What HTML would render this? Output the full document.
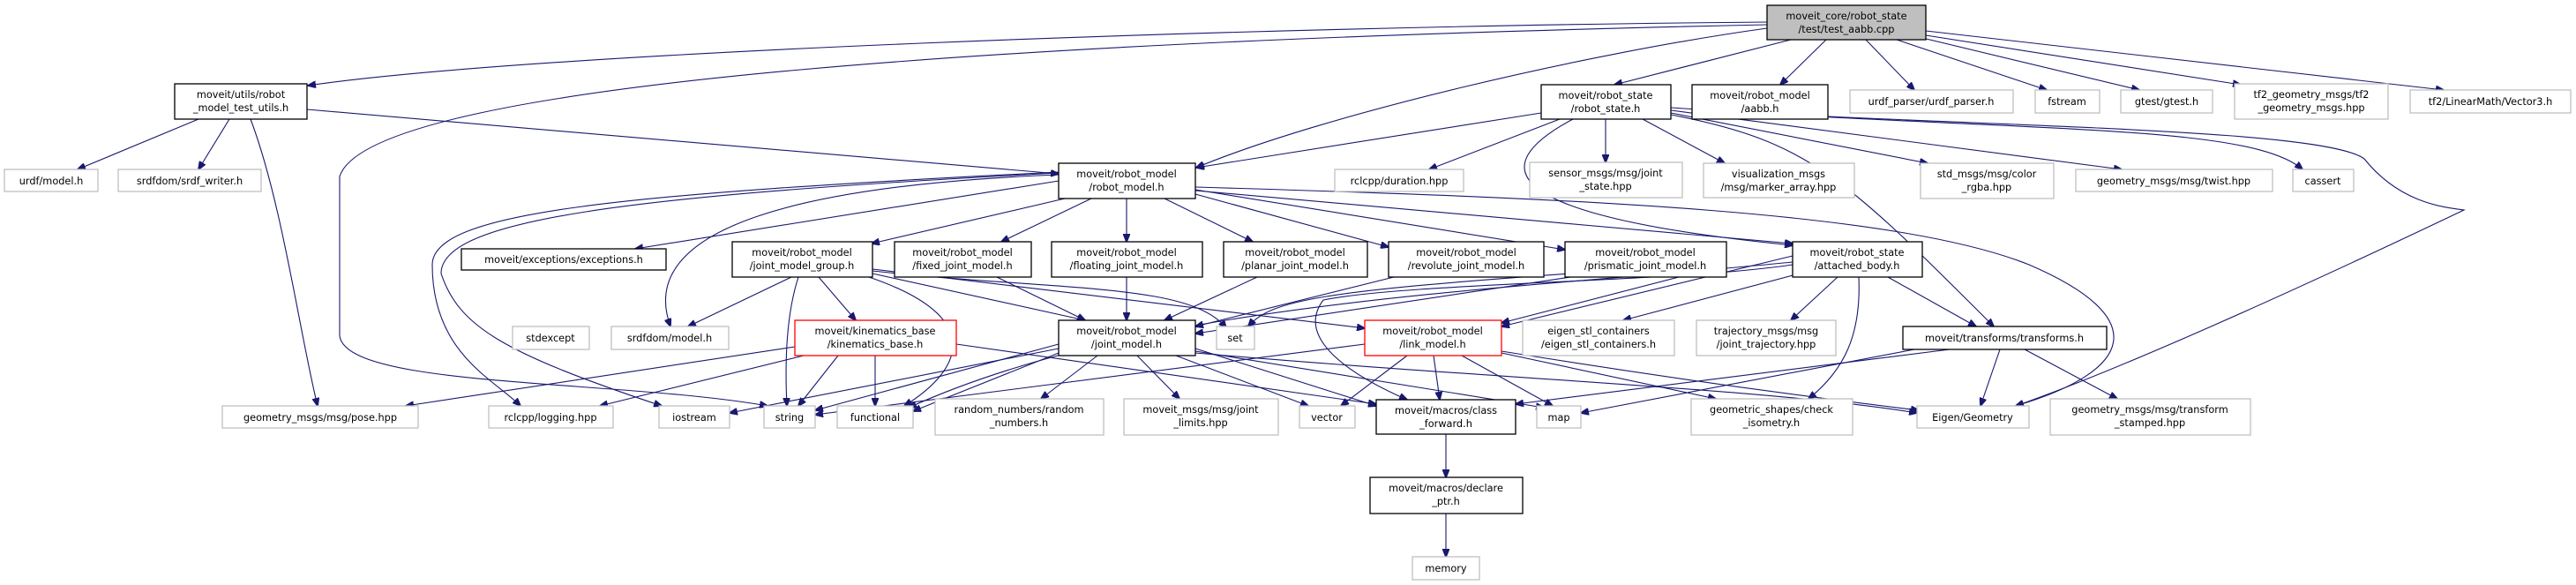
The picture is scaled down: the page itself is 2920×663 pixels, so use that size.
<!DOCTYPE html>
<html><head><meta charset="utf-8"><style>
html,body{margin:0;padding:0;background:#fff}
svg{display:block}
text{font-family:"DejaVu Sans","Liberation Sans",sans-serif;font-size:11.3px;fill:#000}
.e{fill:none;stroke:#191970;stroke-width:1.1}
.k{fill:#fff;stroke:#000;stroke-width:1.3}
.g{fill:#fff;stroke:#bfbfbf;stroke-width:1.3}
.r{fill:#fff;stroke:#ff0000;stroke-width:1.3}
</style></head><body>
<svg width="2920" height="663" viewBox="0 0 2920 663" xmlns="http://www.w3.org/2000/svg">
<defs><marker id="a" markerWidth="10" markerHeight="8" refX="9" refY="4" orient="auto" markerUnits="userSpaceOnUse"><path d="M0,0 L10,4 L0,8 z" fill="#191970" stroke="#191970"/></marker></defs>
<g class="e" marker-end="url(#a)">
<path d="M2003,25 C1400,30 600,60 349,97"/>
<path d="M2003,28 C1200,45 420,90 385,200 L385,380 C390,440 700,430 870,460"/>
<path d="M2003,32 C1800,60 1500,130 1356,190"/>
<path d="M2030,45 L1830,96"/>
<path d="M2070,45 L2018,96"/>
<path d="M2115,45 L2170,102"/>
<path d="M2150,45 L2320,102"/>
<path d="M2175,42 L2425,102"/>
<path d="M2183,40 L2540,96"/>
<path d="M2183,35 L2770,102"/>
<path d="M225,135 L88,192"/>
<path d="M260,135 L225,192"/>
<path d="M284,135 C320,230 340,380 360,460"/>
<path d="M348,124 L1200,197"/>
<path d="M1747,128 L1356,190"/>
<path d="M1768,135 L1620,192"/>
<path d="M1820,135 L1820,184"/>
<path d="M1862,135 L1955,185"/>
<path d="M1894,128 L2185,185"/>
<path d="M1894,125 L2405,192"/>
<path d="M1894,122 C2300,150 2550,140 2610,192"/>
<path d="M1894,130 C2050,160 2090,200 2260,370"/>
<path d="M1783,135 C1680,190 1700,245 2032,278"/>
<path d="M2072,132 C2350,145 2640,150 2680,180 C2720,230 2770,235 2793,238 C2600,330 2400,420 2285,460"/>
<path d="M1200,205 L720,282"/>
<path d="M1207,225 L988,276"/>
<path d="M1237,225 L1135,274"/>
<path d="M1277,225 L1277,274"/>
<path d="M1320,225 L1420,274"/>
<path d="M1355,220 L1574,280"/>
<path d="M1355,215 L1774,283"/>
<path d="M1355,212 C1800,225 2150,240 2300,300 C2440,360 2420,420 2285,460"/>
<path d="M1355,216 L2032,276"/>
<path d="M1200,198 C900,210 720,260 760,370"/>
<path d="M1200,195 C700,220 490,240 490,300 C490,400 560,430 590,460"/>
<path d="M1200,196 C700,222 500,250 500,310 C520,370 570,400 750,460"/>
<path d="M897,314 L780,370"/>
<path d="M905,314 C890,360 890,420 892,460"/>
<path d="M928,314 L970,363"/>
<path d="M989,310 L1230,363"/>
<path d="M989,307 C1200,330 1350,320 1390,372"/>
<path d="M989,305 L1547,372"/>
<path d="M985,314 C1120,360 1090,420 1025,460"/>
<path d="M901,393 L460,460"/>
<path d="M911,403 L680,460"/>
<path d="M950,403 L905,460"/>
<path d="M992,403 L992,460"/>
<path d="M1084,390 L1560,458"/>
<path d="M1130,314 L1230,363"/>
<path d="M1277,314 L1277,363"/>
<path d="M1425,314 L1320,363"/>
<path d="M1580,314 L1355,370"/>
<path d="M1780,314 L1355,378"/>
<path d="M1780,310 C1500,330 1440,340 1415,370"/>
<path d="M1957,300 L1702,366"/>
<path d="M1244,403 L1180,452"/>
<path d="M1289,403 L1337,452"/>
<path d="M1333,403 L1483,460"/>
<path d="M1355,395 L1560,460"/>
<path d="M1355,398 L1750,462"/>
<path d="M1355,400 C1700,430 2000,440 2173,468"/>
<path d="M1200,390 L924,465"/>
<path d="M1200,395 L827,468"/>
<path d="M1200,400 L1035,466"/>
<path d="M1595,403 L1520,460"/>
<path d="M1625,403 L1632,453"/>
<path d="M1657,403 L1760,460"/>
<path d="M1702,400 L1945,452"/>
<path d="M1702,398 C1900,430 2050,450 2175,465"/>
<path d="M1547,390 L924,470"/>
<path d="M2032,290 L1702,370"/>
<path d="M2040,310 L1840,363"/>
<path d="M2083,314 L2030,363"/>
<path d="M2140,314 L2240,370"/>
<path d="M2107,314 C2110,380 2090,420 2050,452"/>
<path d="M2032,300 C1900,320 1600,320 1500,340 C1470,380 1520,420 1595,453"/>
<path d="M2032,297 C1700,330 1300,340 1030,462"/>
<path d="M2267,396 L2245,460"/>
<path d="M2295,396 L2400,452"/>
<path d="M2170,396 L1792,468"/>
<path d="M2210,396 L1718,458"/>
<path d="M1639,492 L1639,541"/>
<path d="M1639,582 L1639,631"/>
</g>
<g text-anchor="middle">
<rect x="2003" y="6" width="180" height="39" fill="#bfbfbf" stroke="#000" stroke-width="1.3"/><text x="2093" y="22">moveit_core/robot_state</text><text x="2093" y="37">/test/test_aabb.cpp</text>
<rect class="k" x="198" y="95" width="150" height="40"/><text x="273" y="111">moveit/utils/robot</text><text x="273" y="126">_model_test_utils.h</text>
<rect class="k" x="1747" y="96" width="147" height="39"/><text x="1820" y="112">moveit/robot_state</text><text x="1820" y="127">/robot_state.h</text>
<rect class="k" x="1918" y="96" width="154" height="39"/><text x="1995" y="112">moveit/robot_model</text><text x="1995" y="127">/aabb.h</text>
<rect class="g" x="2097" y="102" width="185" height="26"/><text x="2189" y="119">urdf_parser/urdf_parser.h</text>
<rect class="g" x="2307" y="102" width="73" height="26"/><text x="2343" y="119">fstream</text>
<rect class="g" x="2404" y="102" width="104" height="26"/><text x="2456" y="119">gtest/gtest.h</text>
<rect class="g" x="2533" y="95" width="174" height="40"/><text x="2620" y="111">tf2_geometry_msgs/tf2</text><text x="2620" y="126">_geometry_msgs.hpp</text>
<rect class="g" x="2732" y="102" width="182" height="26"/><text x="2823" y="119">tf2/LinearMath/Vector3.h</text>
<rect class="g" x="5" y="192" width="106" height="25"/><text x="58" y="209">urdf/model.h</text>
<rect class="g" x="134" y="192" width="162" height="25"/><text x="215" y="209">srdfdom/srdf_writer.h</text>
<rect class="k" x="1200" y="185" width="155" height="40"/><text x="1277" y="201">moveit/robot_model</text><text x="1277" y="216">/robot_model.h</text>
<rect class="g" x="1513" y="192" width="146" height="25"/><text x="1586" y="209">rclcpp/duration.hpp</text>
<rect class="g" x="1734" y="184" width="173" height="40"/><text x="1820" y="200">sensor_msgs/msg/joint</text><text x="1820" y="215">_state.hpp</text>
<rect class="g" x="1931" y="185" width="171" height="39"/><text x="2016" y="201">visualization_msgs</text><text x="2016" y="216">/msg/marker_array.hpp</text>
<rect class="g" x="2177" y="185" width="151" height="40"/><text x="2252" y="201">std_msgs/msg/color</text><text x="2252" y="216">_rgba.hpp</text>
<rect class="g" x="2353" y="192" width="223" height="25"/><text x="2464" y="209">geometry_msgs/msg/twist.hpp</text>
<rect class="g" x="2599" y="192" width="69" height="25"/><text x="2633" y="209">cassert</text>
<rect class="k" x="523" y="282" width="232" height="24"/><text x="639" y="298">moveit/exceptions/exceptions.h</text>
<rect class="k" x="830" y="274" width="159" height="40"/><text x="909" y="290">moveit/robot_model</text><text x="909" y="305">/joint_model_group.h</text>
<rect class="k" x="1014" y="274" width="155" height="40"/><text x="1091" y="290">moveit/robot_model</text><text x="1091" y="305">/fixed_joint_model.h</text>
<rect class="k" x="1192" y="274" width="171" height="40"/><text x="1277" y="290">moveit/robot_model</text><text x="1277" y="305">/floating_joint_model.h</text>
<rect class="k" x="1387" y="274" width="163" height="40"/><text x="1468" y="290">moveit/robot_model</text><text x="1468" y="305">/planar_joint_model.h</text>
<rect class="k" x="1574" y="274" width="176" height="40"/><text x="1662" y="290">moveit/robot_model</text><text x="1662" y="305">/revolute_joint_model.h</text>
<rect class="k" x="1774" y="274" width="183" height="40"/><text x="1865" y="290">moveit/robot_model</text><text x="1865" y="305">/prismatic_joint_model.h</text>
<rect class="k" x="2032" y="274" width="147" height="40"/><text x="2105" y="290">moveit/robot_state</text><text x="2105" y="305">/attached_body.h</text>
<rect class="g" x="581" y="370" width="87" height="26"/><text x="624" y="387">stdexcept</text>
<rect class="g" x="693" y="370" width="133" height="26"/><text x="759" y="387">srdfdom/model.h</text>
<rect class="r" x="901" y="363" width="183" height="40"/><text x="992" y="379">moveit/kinematics_base</text><text x="992" y="394">/kinematics_base.h</text>
<rect class="k" x="1200" y="363" width="155" height="40"/><text x="1277" y="379">moveit/robot_model</text><text x="1277" y="394">/joint_model.h</text>
<rect class="g" x="1379" y="370" width="43" height="26"/><text x="1400" y="387">set</text>
<rect class="r" x="1547" y="363" width="155" height="40"/><text x="1624" y="379">moveit/robot_model</text><text x="1624" y="394">/link_model.h</text>
<rect class="g" x="1726" y="363" width="172" height="40"/><text x="1812" y="379">eigen_stl_containers</text><text x="1812" y="394">/eigen_stl_containers.h</text>
<rect class="g" x="1923" y="363" width="158" height="40"/><text x="2002" y="379">trajectory_msgs/msg</text><text x="2002" y="394">/joint_trajectory.hpp</text>
<rect class="k" x="2157" y="370" width="231" height="26"/><text x="2272" y="387">moveit/transforms/transforms.h</text>
<rect class="g" x="252" y="460" width="222" height="25"/><text x="363" y="477">geometry_msgs/msg/pose.hpp</text>
<rect class="g" x="554" y="460" width="141" height="25"/><text x="624" y="477">rclcpp/logging.hpp</text>
<rect class="g" x="747" y="460" width="80" height="25"/><text x="787" y="477">iostream</text>
<rect class="g" x="866" y="460" width="58" height="25"/><text x="895" y="477">string</text>
<rect class="g" x="949" y="460" width="86" height="25"/><text x="992" y="477">functional</text>
<rect class="g" x="1060" y="452" width="191" height="41"/><text x="1155" y="468">random_numbers/random</text><text x="1155" y="483">_numbers.h</text>
<rect class="g" x="1274" y="452" width="175" height="41"/><text x="1361" y="468">moveit_msgs/msg/joint</text><text x="1361" y="483">_limits.hpp</text>
<rect class="g" x="1473" y="460" width="63" height="25"/><text x="1504" y="477">vector</text>
<rect class="k" x="1560" y="453" width="158" height="39"/><text x="1639" y="469">moveit/macros/class</text><text x="1639" y="484">_forward.h</text>
<rect class="g" x="1742" y="460" width="50" height="25"/><text x="1767" y="477">map</text>
<rect class="g" x="1917" y="452" width="183" height="41"/><text x="2008" y="468">geometric_shapes/check</text><text x="2008" y="483">_isometry.h</text>
<rect class="g" x="2173" y="460" width="127" height="25"/><text x="2236" y="477">Eigen/Geometry</text>
<rect class="g" x="2324" y="452" width="227" height="41"/><text x="2437" y="468">geometry_msgs/msg/transform</text><text x="2437" y="483">_stamped.hpp</text>
<rect class="k" x="1553" y="541" width="173" height="41"/><text x="1639" y="557">moveit/macros/declare</text><text x="1639" y="572">_ptr.h</text>
<rect class="g" x="1601" y="631" width="76" height="26"/><text x="1639" y="648">memory</text>
</g>
</svg>
</body></html>
